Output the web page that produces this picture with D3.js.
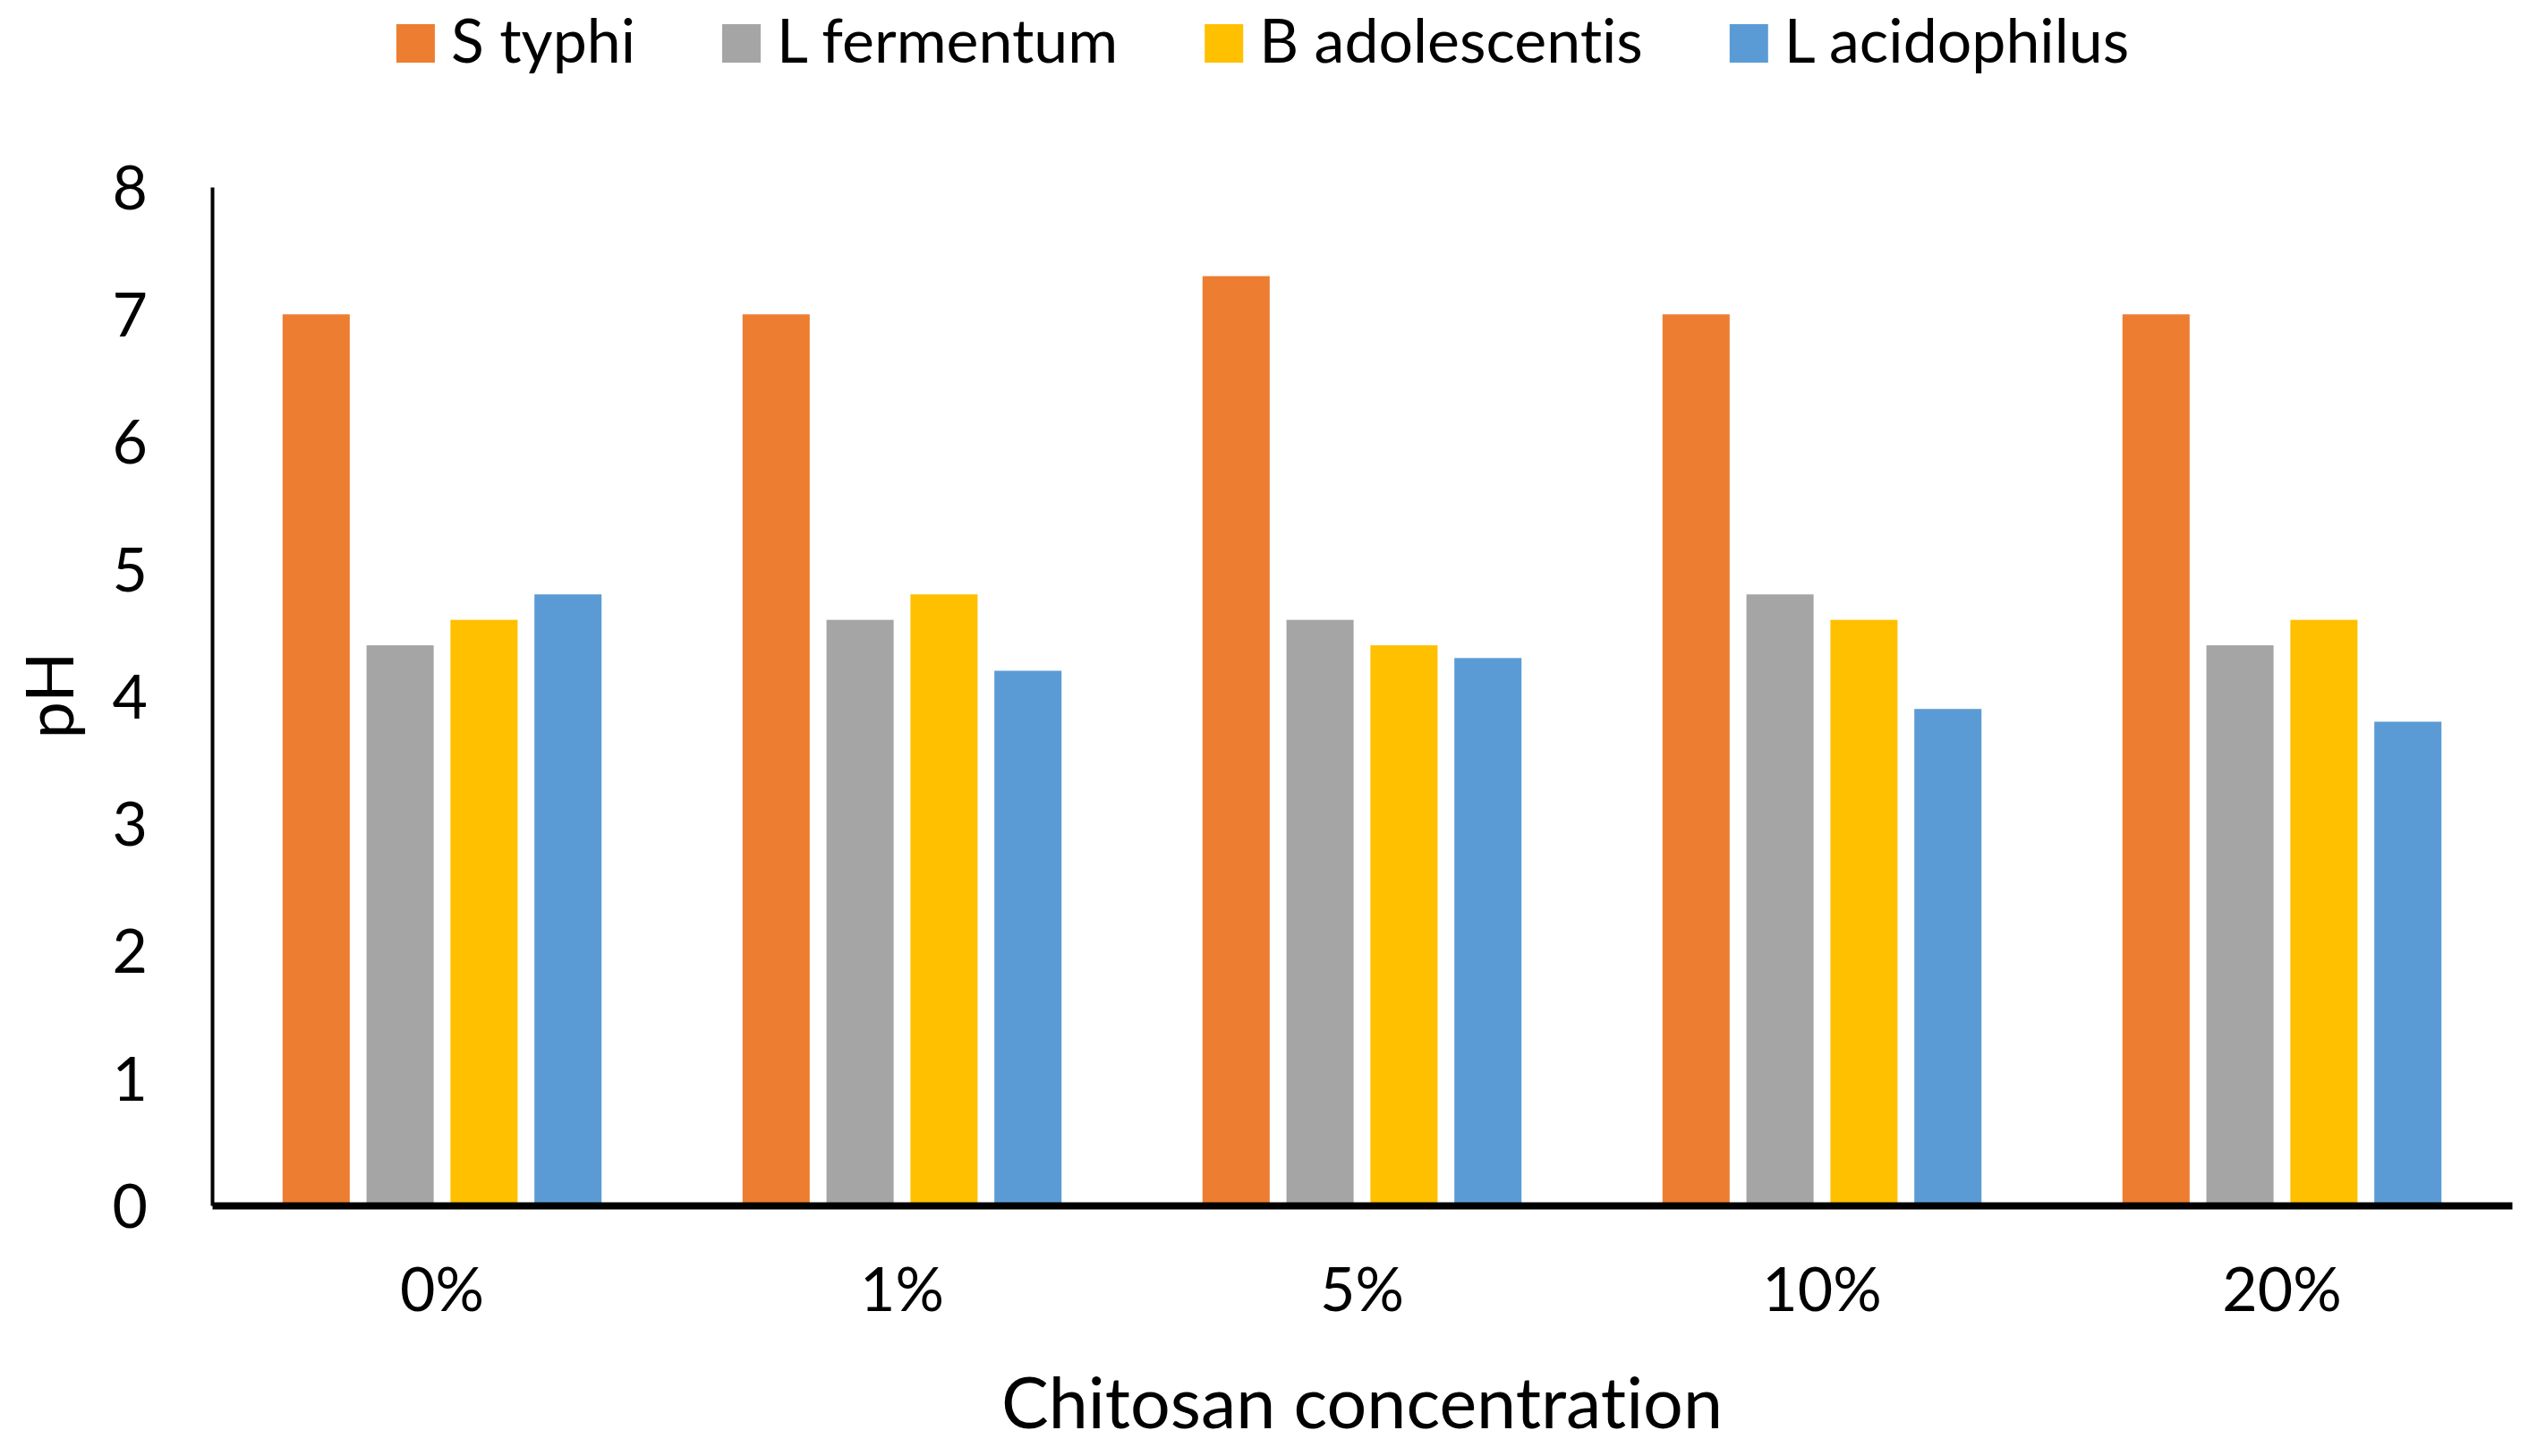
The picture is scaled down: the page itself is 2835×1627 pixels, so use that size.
<!DOCTYPE html>
<html lang="en">
<head>
  <meta charset="utf-8">
  <title>pH by chitosan concentration</title>
  <script src="https://d3js.org/d3.v7.min.js"></script>
  <style>
    body {
      margin: 0;
      padding: 0;
      background: white;
    }
    svg text {
      font-family: Lato, "Open Sans", sans-serif;
      font-variant-ligatures: none;
      fill: black;
    }
  </style>
</head>
<body>
  <svg id="chart"></svg>

  <script>
    const width = 2835;
    const height = 1627;

    // data
    const categories = ["0%", "1%", "5%", "10%", "20%"];
    const seriesNames = ["S typhi", "L fermentum", "B adolescentis", "L acidophilus"];
    const seriesColors = ["#ED7D31", "#A5A5A5", "#FFC000", "#5B9BD5"];
    const sTyphi = [7.0, 7.0, 7.3, 7.0, 7.0];
    const lFermentum = [4.4, 4.6, 4.6, 4.8, 4.4];
    const bAdolescentis = [4.6, 4.8, 4.4, 4.6, 4.6];
    const lAcidophilus = [4.8, 4.2, 4.3, 3.9, 3.8];
    const yTicks = [0, 1, 2, 3, 4, 5, 6, 7, 8];

    const seriesValues = [sTyphi, lFermentum, bAdolescentis, lAcidophilus];

    const margin = { left: 237, right: 28, top: 209, bottom: 280 };
    const plotRight = width - margin.right;
    const plotBottom = height - margin.bottom;

    const svg = d3.select("#chart")
      .attr("width", width)
      .attr("height", height);

    const x = d3.scaleBand()
      .domain(categories)
      .range([margin.left, plotRight])
      .paddingInner(0)
      .paddingOuter(0);

    const y = d3.scaleLinear()
      .domain([0, 8])
      .range([plotBottom, margin.top]);

    // bars inside each category: width ~ 14.6% of band, step 1.25 x bar width
    const barW = x.bandwidth() * 0.146;
    const barStep = barW * 1.25;
    const groupW = barStep * (seriesNames.length - 1) + barW;
    const xs = d3.scaleBand()
      .domain(seriesNames)
      .range([0, groupW])
      .paddingInner((barStep - barW) / barStep)
      .paddingOuter(0);

    const table = categories.map((c, i) => ({
      category: c,
      values: seriesNames.map((s, j) => ({ series: s, value: seriesValues[j][i], color: seriesColors[j] }))
    }));

    const groups = svg.append("g")
      .selectAll("g")
      .data(table)
      .join("g")
      .attr("transform", d => `translate(${x(d.category) + (x.bandwidth() - groupW) / 2},0)`);

    groups.selectAll("rect")
      .data(d => d.values)
      .join("rect")
      .attr("x", d => xs(d.series))
      .attr("width", xs.bandwidth())
      .attr("y", d => y(d.value))
      .attr("height", d => y(0) - y(d.value))
      .attr("fill", d => d.color);

    // y axis
    const yAxis = svg.append("g")
      .attr("transform", `translate(${margin.left},0)`)
      .call(d3.axisLeft(y).tickValues(yTicks).tickSize(0).tickPadding(72).tickFormat(d3.format("d")));
    yAxis.select(".domain").attr("stroke", "black").attr("stroke-width", 4);
    yAxis.selectAll(".tick text")
      .attr("font-size", 68)
      .attr("dy", "0.36em")
      .style("font-family", "Lato, 'Open Sans', sans-serif");

    // x axis
    const xAxis = svg.append("g")
      .attr("transform", `translate(0,${plotBottom})`)
      .call(d3.axisBottom(x).tickSize(0).tickPadding(70));
    xAxis.select(".domain").attr("stroke", "black").attr("stroke-width", 8);
    xAxis.selectAll(".tick text")
      .attr("font-size", 68)
      .attr("dy", "0.71em")
      .style("font-family", "Lato, 'Open Sans', sans-serif");

    // axis titles
    svg.append("text")
      .attr("transform", `translate(82,777) rotate(-90)`)
      .attr("text-anchor", "middle")
      .attr("font-size", 74)
      .text("pH");

    svg.append("text")
      .attr("x", (margin.left + plotRight) / 2)
      .attr("y", 1596)
      .attr("text-anchor", "middle")
      .attr("font-size", 79)
      .text("Chitosan concentration");

    // legend
    const legend = svg.append("g");
    const items = legend.selectAll("g")
      .data(seriesNames)
      .join("g");
    items.append("rect")
      .attr("width", 43)
      .attr("height", 43)
      .attr("y", 27)
      .attr("fill", (d, i) => seriesColors[i]);
    items.append("text")
      .attr("x", 61)
      .attr("y", 70)
      .attr("font-size", 68)
      .text(d => d);

    let offset = 0;
    items.each(function() {
      const w = d3.select(this).select("text").node().getComputedTextLength();
      d3.select(this).attr("transform", `translate(${offset},0)`);
      offset += 61 + w + 97;
    });
    const legendW = offset - 97;
    legend.attr("transform", `translate(${1411 - legendW / 2},0)`);
  </script>
</body>
</html>
